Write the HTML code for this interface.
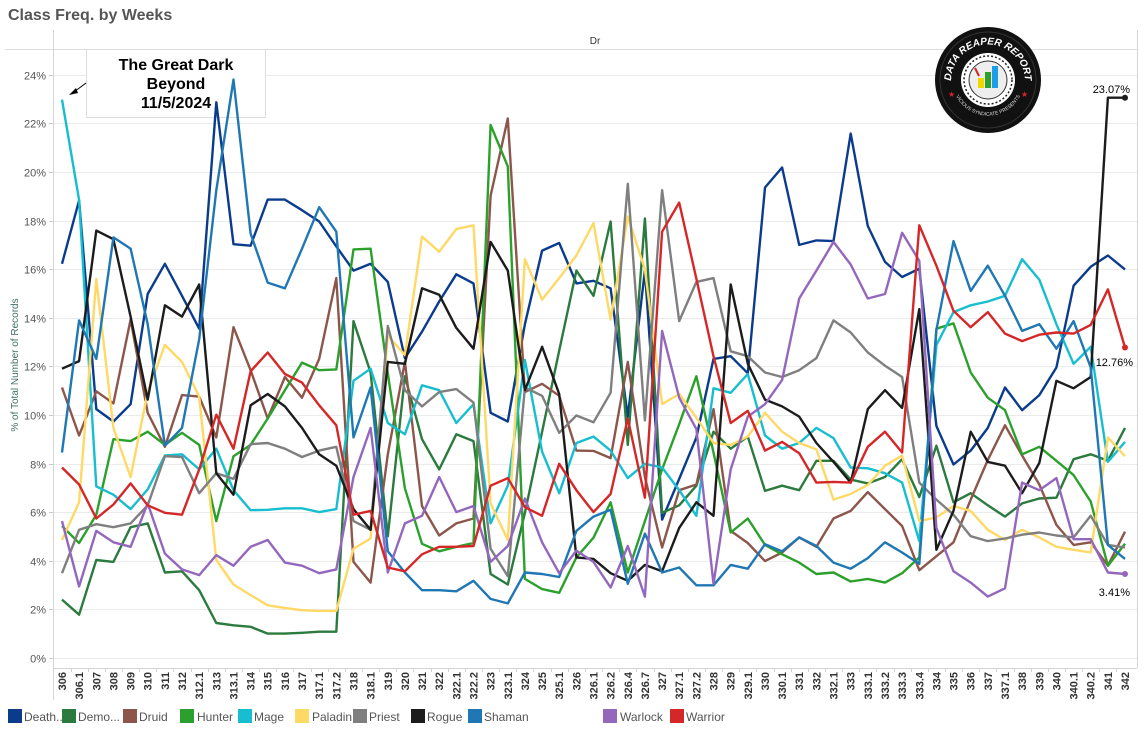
<!DOCTYPE html>
<html><head><meta charset="utf-8">
<style>
html,body{margin:0;padding:0;background:#fff;width:1144px;height:730px;overflow:hidden}
svg{display:block}
text{font-family:"Liberation Sans",Arial,sans-serif}
</style></head>
<body>
<svg id="s" width="1144" height="730" xmlns="http://www.w3.org/2000/svg">
<text x="8" y="20" font-size="16" font-weight="bold" fill="#555">Class Freq. by Weeks</text>
<text x="595" y="44" font-size="10" fill="#333" text-anchor="middle">Dr</text>
<line x1="5" y1="49.5" x2="1137" y2="49.5" stroke="#ddd"/>
<line x1="53.5" y1="30" x2="53.5" y2="700" stroke="#d4d4d4"/>
<line x1="1137.5" y1="30" x2="1137.5" y2="668" stroke="#d4d4d4"/>
<line x1="53" y1="668.5" x2="1137" y2="668.5" stroke="#d4d4d4"/>
<g id="grid"></g>
<text transform="translate(18,365) rotate(-90)" font-size="10" fill="#3f6f66" text-anchor="middle">% of Total Number of Records</text>
<rect x="86.5" y="49.5" width="179" height="68" fill="#fff" stroke="#ddd"/>
<text x="176" y="70" font-size="16" font-weight="bold" text-anchor="middle" fill="#000">The Great Dark</text>
<text x="176" y="89" font-size="16" font-weight="bold" text-anchor="middle" fill="#000">Beyond</text>
<text x="176" y="108" font-size="16" font-weight="bold" text-anchor="middle" fill="#000">11/5/2024</text>
<line x1="86" y1="83" x2="74" y2="92" stroke="#000" stroke-width="1"/>
<polygon points="69,95 76,88 78,93" fill="#000"/>
<g id="lines"></g>
<g id="xl"></g>
<g transform="translate(988,80)">
<circle r="53" fill="#111"/>
<circle r="48" fill="none" stroke="#333" stroke-width="1"/>
<circle r="27" fill="#fff"/>
<circle r="24" fill="none" stroke="#222" stroke-width="1.5" stroke-dasharray="2 2"/>
<circle r="19" fill="#eee" stroke="#333"/>
<rect x="-10" y="-2" width="6" height="10" fill="#f2d600"/>
<rect x="-3" y="-8" width="6" height="16" fill="#2ca02c"/>
<rect x="4" y="-14" width="6" height="22" fill="#1f9ee8"/>
<path d="M-13,-12 L-9,-4" stroke="#d62728" stroke-width="2"/>
<defs><path id="arc" d="M-36,10 A37,37 0 1,1 36,10"/><path id="arc2" d="M-33,14 A36,36 0 0,0 33,14"/></defs>
<text font-size="10" font-weight="bold" fill="#fff" font-style="italic"><textPath href="#arc" startOffset="50%" text-anchor="middle">DATA REAPER REPORT</textPath></text>
<text font-size="5" fill="#ddd"><textPath href="#arc2" startOffset="50%" text-anchor="middle">VICIOUS SYNDICATE PRESENTS</textPath></text>
<text x="-40" y="17" font-size="8" fill="#d62728">★</text>
<text x="33" y="17" font-size="8" fill="#d62728">★</text>
</g>
<text x="1130" y="93" font-size="11" fill="#000" text-anchor="end">23.07%</text>
<text x="1133" y="366" font-size="11" fill="#000" text-anchor="end">12.76%</text>
<text x="1130" y="596" font-size="11" fill="#000" text-anchor="end">3.41%</text>
<g id="leg" font-size="12" fill="#555"></g>
</svg>
<script>
var NS="http://www.w3.org/2000/svg";
function el(t,a,p,txt){var e=document.createElementNS(NS,t);for(var k in a)e.setAttribute(k,a[k]);if(txt!=null)e.textContent=txt;p.appendChild(e);return e;}
var Y=function(v){return 658-v*24.3;};
var g=document.getElementById('grid');
for(var v=0;v<=24;v+=2){var y=Math.round(Y(v))+0.5;
 el('line',{x1:54,y1:y,x2:1137,y2:y,stroke:'#ebebeb','stroke-width':1},g);
 el('line',{x1:49,y1:y,x2:53,y2:y,stroke:'#ccc'},g);
 el('text',{x:46,y:y+4,'font-size':11,fill:'#555','text-anchor':'end'},g,v+'%');}
var labs="306,306.1,307,308,309,310,311,312,312.1,313,313.1,314,315,316,317,317.1,317.2,318,318.1,319,320,321,322,322.1,322.2,323,323.1,324,325,325.1,326,326.1,326.2,326.4,326.7,327,327.1,327.2,328,329,329.1,330,330.1,331,332,332.1,333,333.1,333.2,333.3,333.4,334,335,336,337,337.1,338,339,340,340.1,340.2,341,342".split(',');
var X=function(i){return 62+i*(1125-62)/62;};
var xl=document.getElementById('xl');
for(var i=0;i<labs.length;i++){var x=X(i);
 el('text',{transform:'translate('+(x+4)+',672) rotate(-90)','text-anchor':'end','font-size':11,'font-weight':'bold',fill:'#333'},xl,labs[i]);
 var bx=Math.round(x+8.57)+0.5; if(i<labs.length-1) el('line',{x1:bx,y1:668,x2:bx,y2:672,stroke:'#d4d4d4'},xl);}
var S=[
['#0b3c8c',[540,372,925,958,912,620,540,625,712,112,488,492,370,370,398,428,494,558,540,588,790,720,640,568,592,935,958,700,505,485,592,585,605,945,558,1218,1110,1000,792,785,830,338,285,490,478,480,195,440,535,575,553,970,1072,1035,975,868,928,888,815,598,548,518,555]],
['#2b7a3e',[1430,1470,1325,1330,1238,1228,1358,1355,1405,1492,1498,1502,1520,1520,1518,1515,1515,692,828,1262,838,1005,1085,992,1010,1362,1390,1200,985,770,558,625,428,1020,420,1200,1180,1128,985,1030,998,1142,1128,1140,1062,1062,1112,1122,1105,1058,1158,1022,1172,1148,1180,1210,1175,1162,1160,1058,1045,1062,975]],
['#8c564b',[868,995,878,910,688,935,1025,888,892,1000,708,822,950,840,895,792,578,1330,1385,1045,800,1182,1260,1228,1215,360,155,880,858,890,1035,1036,1055,800,1105,1292,1140,1125,925,1248,1280,1328,1305,1265,1290,1215,1195,1145,1190,1235,1352,1315,1278,1165,1060,968,1048,1125,1232,1285,1278,1340,1250]],
['#2ca02c',[1235,1280,1205,1005,1010,985,1020,988,1020,1222,1050,1020,950,875,802,822,820,502,500,830,1135,1282,1302,1290,1280,172,282,1375,1402,1412,1318,1266,1172,1358,1222,1085,965,838,1040,1252,1215,1285,1310,1332,1362,1358,1382,1375,1385,1360,1318,712,698,828,895,928,1045,1025,1062,1100,1170,1340,1282]],
['#17becf',[105,371,1130,1152,1190,1138,1048,1045,1085,1030,1140,1193,1192,1188,1188,1198,1190,850,818,962,992,862,875,962,912,1228,1128,795,1038,1148,1015,998,1035,1108,1070,1080,1140,1208,870,882,832,995,1030,1015,975,1002,1080,1082,1095,1120,1275,755,668,650,640,625,528,582,700,805,760,1065,1012]],
['#ffd966',[1272,1172,580,975,1105,880,755,800,892,1325,1390,1418,1445,1452,1458,1460,1460,1295,1268,730,782,468,508,448,438,1175,1272,528,635,578,518,432,688,415,555,912,885,948,1015,1020,998,935,985,1015,1032,1165,1150,1126,1075,1048,1222,1212,1182,1195,1245,1272,1245,1265,1290,1298,1305,1000,1050]],
['#7f7f7f',[1360,1245,1230,1238,1228,1180,1050,1052,1148,1095,1110,1018,1015,1030,1052,1035,1025,1222,1245,705,875,918,880,872,908,1295,1368,868,890,988,942,960,882,328,955,345,692,588,578,772,785,828,840,822,790,690,722,775,810,840,1120,1165,1205,1262,1275,1268,1258,1252,1260,1265,1208,1285,1292]],
['#1c1c1c',[818,798,452,475,680,900,650,680,595,1095,1152,915,885,918,975,1045,1075,1190,1245,800,805,605,622,710,765,482,558,875,760,885,1318,1322,1360,1380,1338,1355,1240,1172,1208,595,805,900,918,945,1015,1065,1120,925,875,922,660,1298,1195,985,1065,1075,1148,1068,850,870,840,100,100]],
['#1f77b4',[1040,690,792,470,500,700,1022,975,740,345,52,460,590,605,500,390,455,1000,868,1302,1358,1405,1405,1408,1380,1428,1440,1358,1362,1370,1248,1210,1192,1388,1255,1358,1345,1392,1392,1338,1348,1283,1302,1265,1288,1332,1348,1320,1278,1305,1335,715,480,612,545,625,718,700,765,692,815,1285,1322]],
['#9467bd',[1222,1395,1248,1278,1290,1175,1308,1350,1365,1312,1340,1290,1272,1332,1340,1360,1350,1105,975,1358,1228,1208,1105,1198,1182,1330,1288,1162,1278,1360,1300,1330,1398,1288,1422,718,895,978,1388,1085,945,912,848,632,558,482,542,632,620,458,532,1240,1355,1385,1422,1400,1120,1140,1108,1270,1270,1358,1362]],
['#d62728',[1080,1125,1215,1178,1122,1180,1200,1205,1085,940,1030,825,775,832,855,915,968,1205,1195,1345,1355,1310,1290,1290,1288,1128,1108,1185,1208,1070,1140,1198,1150,950,1160,455,378,580,785,962,930,1035,1012,1042,1120,1118,1120,1025,985,1040,438,545,665,708,668,725,745,728,722,725,702,608,762]]
];
var L=document.getElementById('lines');
S.forEach(function(s){var pts=s[1].map(function(z,i){return X(i).toFixed(1)+','+(60+z/2.65).toFixed(1);}).join(' ');
 el('polyline',{points:pts,fill:'none',stroke:s[0],'stroke-width':2.4,'stroke-linejoin':'round'},L);});
el('circle',{cx:X(62),cy:60+100/2.65,r:3,fill:'#1c1c1c'},L);
el('circle',{cx:X(62),cy:60+762/2.65,r:3,fill:'#d62728'},L);
el('circle',{cx:X(62),cy:60+1362/2.65,r:3,fill:'#9467bd'},L);
var leg=[['Death...',8,24,'#0b3c8c'],['Demo...',62,78,'#2b7a3e'],['Druid',123,139,'#8c564b'],['Hunter',180,197,'#2ca02c'],['Mage',238,254,'#17becf'],['Paladin',295,312,'#ffd966'],['Priest',353,369,'#7f7f7f'],['Rogue',411,427,'#1c1c1c'],['Shaman',468,484,'#1f77b4'],['Warlock',603,620,'#9467bd'],['Warrior',670,686,'#d62728']];
var lg=document.getElementById('leg');
leg.forEach(function(l){el('rect',{x:l[1],y:709,width:14,height:14,fill:l[3]},lg);el('text',{x:l[2],y:721},lg,l[0]);});
</script>
</body></html>
